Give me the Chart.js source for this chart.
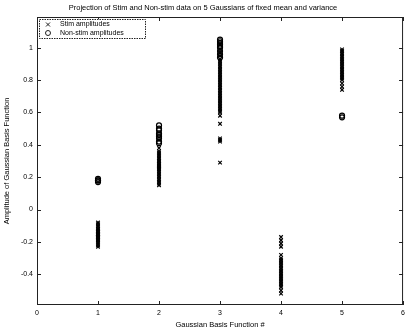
<!DOCTYPE html>
<html>
<head>
<meta charset="utf-8">
<script src="https://cdn.jsdelivr.net/npm/chart.js@4"></script>
<style>
  html, body { margin: 0; padding: 0; background: #fff; }
  #wrap { width: 409px; height: 331px; }
</style>
</head>
<body>
<div id="wrap"><canvas id="chart_projection"></canvas></div>
<script>
// values, one array per basis function
const STIM_1 = [-0.08, -0.09, -0.10, -0.11, -0.12, -0.12, -0.13, -0.13, -0.14, -0.14, -0.15, -0.15, -0.15, -0.16, -0.16, -0.16, -0.17, -0.17, -0.17, -0.18, -0.18, -0.19, -0.19, -0.20, -0.21, -0.22, -0.23];
const STIM_2 = [0.38, 0.36, 0.35, 0.34, 0.33, 0.32, 0.31, 0.30, 0.30, 0.29, 0.28, 0.28, 0.27, 0.27, 0.26, 0.26, 0.25, 0.25, 0.24, 0.23, 0.22, 0.21, 0.20, 0.19, 0.18, 0.17, 0.16, 0.15];
const STIM_3 = [1.02, 0.99, 0.97, 0.95, 0.93, 0.92, 0.91, 0.90, 0.89, 0.88, 0.87, 0.86, 0.85, 0.84, 0.83, 0.82, 0.81, 0.80, 0.79, 0.78, 0.77, 0.76, 0.75, 0.74, 0.73, 0.72, 0.71, 0.70, 0.69, 0.68, 0.67, 0.66, 0.65, 0.64, 0.63, 0.62, 0.61, 0.60, 0.58, 0.53, 0.44, 0.43, 0.42, 0.29];
const STIM_4 = [-0.17, -0.19, -0.21, -0.23, -0.28, -0.30, -0.31, -0.32, -0.33, -0.34, -0.35, -0.36, -0.37, -0.38, -0.39, -0.40, -0.41, -0.42, -0.43, -0.44, -0.45, -0.46, -0.47, -0.48, -0.50, -0.52];
const STIM_5 = [0.99, 0.98, 0.97, 0.96, 0.95, 0.94, 0.93, 0.92, 0.91, 0.90, 0.89, 0.88, 0.87, 0.86, 0.85, 0.84, 0.83, 0.82, 0.81, 0.80, 0.78, 0.76, 0.74];

const NONSTIM_1 = [0.17, 0.18, 0.19, 0.18];
const NONSTIM_2 = [0.52, 0.50, 0.49, 0.47, 0.46, 0.45, 0.44, 0.42, 0.41];
const NONSTIM_3 = [1.05, 1.04, 1.03, 1.02, 1.01, 1.00, 0.98, 0.96, 0.94];
const NONSTIM_4 = [];
const NONSTIM_5 = [0.58, 0.57];

const BASIS = [1, 2, 3, 4, 5];
const X_TICKS = [0, 1, 2, 3, 4, 5, 6];
const Y_TICKS = [-0.4, -0.2, 0, 0.2, 0.4, 0.6, 0.8, 1];

const STIM = [STIM_1, STIM_2, STIM_3, STIM_4, STIM_5];
const NONSTIM = [NONSTIM_1, NONSTIM_2, NONSTIM_3, NONSTIM_4, NONSTIM_5];

function toPoints(groups) {
  const pts = [];
  groups.forEach((vals, i) => vals.forEach(v => pts.push({ x: BASIS[i], y: v })));
  return pts;
}

const FONT = "'Liberation Sans', Arial, sans-serif";

// box round the axes + legend inside top-left
const matlabBox = {
  id: 'matlabBox',
  afterDraw(chart) {
    const { ctx, chartArea: a } = chart;
    ctx.save();
    ctx.strokeStyle = '#222';
    ctx.lineWidth = 1;
    ctx.strokeRect(a.left + 0.5, a.top + 0.5, a.right - a.left - 1, a.bottom - a.top - 1);

    // inward ticks
    const xs = chart.scales.x, ys = chart.scales.y;
    ctx.beginPath();
    X_TICKS.forEach(t => {
      const px = Math.round(xs.getPixelForValue(t)) + 0.5;
      ctx.moveTo(px, a.bottom); ctx.lineTo(px, a.bottom - 4);
      ctx.moveTo(px, a.top); ctx.lineTo(px, a.top + 4);
    });
    Y_TICKS.forEach(t => {
      const py = Math.round(ys.getPixelForValue(t)) + 0.5;
      ctx.moveTo(a.left, py); ctx.lineTo(a.left + 4, py);
      ctx.moveTo(a.right, py); ctx.lineTo(a.right - 4, py);
    });
    ctx.stroke();

    // legend
    const lx = a.left + 2, ly = a.top + 2, lw = 106, lh = 19;
    ctx.fillStyle = '#fff';
    ctx.fillRect(lx, ly, lw, lh);
    ctx.setLineDash([1.5, 1]);
    ctx.strokeRect(lx + 0.5, ly + 0.5, lw, lh);
    ctx.setLineDash([]);
    ctx.font = '7px ' + FONT;
    ctx.fillStyle = '#000';
    ctx.textBaseline = 'middle';
    chart.data.datasets.forEach((ds, i) => {
      const cy = ly + 5.5 + i * 8.5;
      const cx = lx + 9;
      ctx.beginPath();
      if (ds.pointStyle === 'crossRot') {
        ctx.moveTo(cx - 2, cy - 2); ctx.lineTo(cx + 2, cy + 2);
        ctx.moveTo(cx - 2, cy + 2); ctx.lineTo(cx + 2, cy - 2);
      } else {
        ctx.arc(cx, cy, 2.5, 0, Math.PI * 2);
      }
      ctx.stroke();
      ctx.fillText(ds.label, lx + 21, cy);
    });
    ctx.restore();
  }
};

new Chart(document.getElementById('chart_projection'), {
  type: 'scatter',
  data: {
    datasets: [{
      label: 'Stim amplitudes',
      data: toPoints(STIM),
      pointStyle: 'crossRot',
      pointRadius: 2.5,
      borderColor: '#000',
      borderWidth: 1.2
    }, {
      label: 'Non-stim amplitudes',
      data: toPoints(NONSTIM),
      pointStyle: 'circle',
      pointRadius: 2.5,
      borderColor: '#000',
      backgroundColor: 'rgba(0,0,0,0)',
      borderWidth: 1.2
    }]
  },
  options: {
    responsive: true,
    maintainAspectRatio: false,
    animation: false,
    layout: { padding: { left: 0, right: 3, top: 0, bottom: 0 } },
    plugins: {
      legend: { display: false },
      tooltip: { enabled: false },
      title: {
        display: true,
        text: 'Projection of Stim and Non-stim data on 5 Gaussians of fixed mean and variance',
        color: '#000',
        font: { family: FONT, size: 7.5, weight: 'normal' },
        padding: { top: 3, bottom: 5 }
      }
    },
    scales: {
      x: {
        type: 'linear',
        min: 0,
        max: 6,
        afterBuildTicks: s => { s.ticks = X_TICKS.map(v => ({ value: v })); },
        afterFit: s => { s.height = 26; },
        grid: { display: false, drawTicks: false },
        border: { display: false },
        ticks: { color: '#000', font: { family: FONT, size: 7 }, padding: 4, callback: v => String(v) },
        title: {
          display: true,
          text: 'Gaussian Basis Function #',
          color: '#000',
          font: { family: FONT, size: 7.5 },
          padding: { top: 0, bottom: 2 }
        }
      },
      y: {
        type: 'linear',
        min: -0.59,
        max: 1.19,
        afterBuildTicks: s => { s.ticks = Y_TICKS.map(v => ({ value: v })); },
        afterFit: s => { s.width = 37; },
        grid: { display: false, drawTicks: false },
        border: { display: false },
        ticks: { color: '#000', font: { family: FONT, size: 7 }, padding: 4, callback: v => String(Math.round(v * 10) / 10) },
        title: {
          display: true,
          text: 'Amplitude of Gaussian Basis Function',
          color: '#000',
          font: { family: FONT, size: 7.5 },
          padding: { top: 2, bottom: 2 }
        }
      }
    }
  },
  plugins: [matlabBox]
});
</script>
</body>
</html>
